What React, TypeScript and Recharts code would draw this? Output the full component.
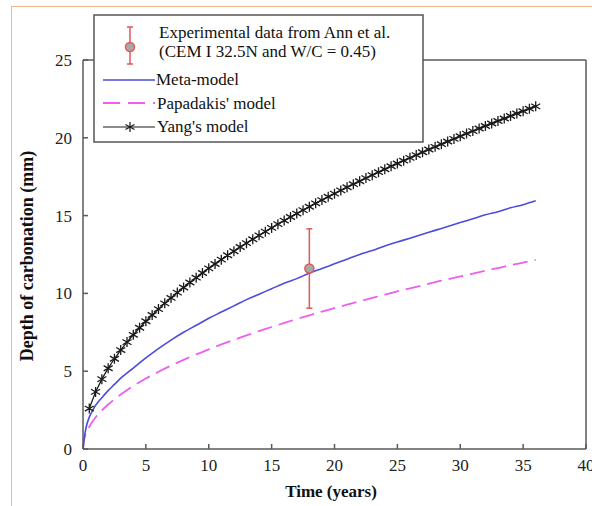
import React from "react"
import { ComposedChart, Line, Scatter, ErrorBar, XAxis, YAxis, ReferenceLine } from "recharts"

const xTicks = [0, 5, 10, 15, 20, 25, 30, 35, 40]
const yTicks = [0, 5, 10, 15, 20, 25]

// Meta-model (solid blue)
const metaTime = [0, 0.1, 0.25, 0.5, 0.75, 1, 1.5, 2, 2.5, 3, 4, 5, 6, 7, 8, 9, 10, 11, 12, 13, 14, 15, 16, 17, 18, 19, 20, 21, 22, 23, 24, 25, 26, 27, 28, 29, 30, 31, 32, 33, 34, 35, 36]
const metaDepth = [0, 0.7, 1.4, 2.05, 2.45, 2.8, 3.3, 3.75, 4.15, 4.55, 5.2, 5.85, 6.45, 7.0, 7.5, 7.95, 8.4, 8.8, 9.2, 9.6, 9.95, 10.3, 10.65, 10.95, 11.3, 11.6, 11.9, 12.2, 12.5, 12.75, 13.05, 13.3, 13.55, 13.8, 14.05, 14.3, 14.55, 14.8, 15.05, 15.25, 15.5, 15.7, 15.95]

// Papadakis' model (dashed pink)
const papaTime = [0, 0.1, 0.25, 0.5, 1, 1.5, 2, 3, 4, 5, 6, 7, 8, 9, 10, 11, 12, 13, 14, 15, 16, 17, 18, 19, 20, 21, 22, 23, 24, 25, 26, 27, 28, 29, 30, 31, 32, 33, 34, 35, 36]
const papaDepth = [0, 0.64, 1.0, 1.43, 2.03, 2.48, 2.86, 3.5, 4.05, 4.53, 4.96, 5.36, 5.73, 6.08, 6.4, 6.72, 7.01, 7.3, 7.58, 7.84, 8.1, 8.35, 8.59, 8.83, 9.06, 9.28, 9.5, 9.71, 9.92, 10.13, 10.33, 10.52, 10.72, 10.9, 11.09, 11.27, 11.46, 11.63, 11.81, 11.98, 12.15]

// Yang's model (black with asterisks)
const yangTime = [
    0.5, 1, 1.5, 2, 2.5, 3, 3.5, 4, 4.5, 5, 5.5, 6, 6.5, 7, 7.5, 8, 8.5, 9, 9.5, 10, 10.5, 11, 11.5, 12,
    12.5, 13, 13.5, 14, 14.5, 15, 15.5, 16, 16.5, 17, 17.5, 18, 18.5, 19, 19.5, 20, 20.5, 21, 21.5, 22, 22.5, 23, 23.5, 24,
    24.5, 25, 25.5, 26, 26.5, 27, 27.5, 28, 28.5, 29, 29.5, 30, 30.5, 31, 31.5, 32, 32.5, 33, 33.5, 34, 34.5, 35, 35.5, 36,
]
const yangDepth = [
    2.6, 3.67, 4.49, 5.19, 5.8, 6.36, 6.87, 7.34, 7.79, 8.21, 8.61, 8.99, 9.36, 9.71, 10.05, 10.38, 10.7, 11.01, 11.31, 11.61, 11.89, 12.17, 12.45, 12.71,
    12.98, 13.23, 13.48, 13.73, 13.97, 14.21, 14.45, 14.68, 14.91, 15.13, 15.35, 15.57, 15.79, 16.0, 16.21, 16.41, 16.62, 16.82, 17.02, 17.21, 17.41, 17.6, 17.79, 17.98,
    18.17, 18.35, 18.53, 18.71, 18.89, 19.07, 19.25, 19.42, 19.59, 19.76, 19.93, 20.1, 20.27, 20.43, 20.6, 20.76, 20.92, 21.08, 21.24, 21.4, 21.56, 21.71, 21.87, 22.02,
]

// Experimental point (Ann et al.)
const expTime = [18]
const expDepth = [11.6]
const expError = [2.55]

const metaData = metaTime.map((t, i) => ({ t, y: metaDepth[i] }))
const papaData = papaTime.map((t, i) => ({ t, y: papaDepth[i] }))
const yangData = yangTime.map((t, i) => ({ t, y: yangDepth[i] }))
const expData = expTime.map((t, i) => ({ t, y: expDepth[i], err: expError[i] }))

const FONT = "'Liberation Serif', 'Times New Roman', serif"
const AXIS = "#5a5a5a"
const BLUE = "#4b4bdc"
const PINK = "#ee5fee"
const RED = "#e05858"

const starPath = (cx: number, cy: number) =>
    `M${cx},${cy - 5}V${cy + 5}M${cx - 4.5},${cy - 2.6}L${cx + 4.5},${cy + 2.6}M${cx - 4.5},${cy + 2.6}L${cx + 4.5},${cy - 2.6}`

const Asterisk = (props: any) => {
    const { cx, cy, index } = props
    if (cx == null || cy == null) return <g key={`s-${index}`} />
    return <path key={`s-${index}`} d={starPath(cx, cy)} stroke="#1a1a1a" strokeWidth={1.3} fill="none" />
}

const XTick = ({ x, y, payload }: any) => (
    <g>
        <line x1={x} x2={x} y1={y} y2={y - 5} stroke={AXIS} strokeWidth={1.5} />
        <text x={x} y={y + 22} textAnchor="middle" fontSize={17} fill="#222" fontFamily={FONT}>
            {payload.value}
        </text>
    </g>
)

const YTick = ({ x, y, payload }: any) => (
    <g>
        <line x1={x} x2={x + 5} y1={y} y2={y} stroke={AXIS} strokeWidth={1.5} />
        <text x={x - 11} y={y + 6} textAnchor="end" fontSize={17} fill="#222" fontFamily={FONT}>
            {payload.value}
        </text>
    </g>
)

const ExpPoint = (props: any) => {
    const { cx, cy } = props
    return <circle cx={cx} cy={cy} r={4.5} fill="#a8a8a8" stroke={RED} strokeWidth={1.5} />
}

export default function App() {
    return (
        <div style={{ position: "absolute", top: 0, left: 0, width: 592, height: 506, background: "#fff", overflow: "hidden" }}>
            <div style={{ position: "absolute", top: 6, left: 11, right: -10, bottom: -10, borderTop: "1px solid #ecb48c", borderLeft: "1px solid #d4c4aa" }} />
            <ComposedChart
                width={592}
                height={506}
                margin={{ top: 60, right: 6, bottom: 27, left: 23 }}
                style={{ position: "absolute", top: 0, left: 0, fontFamily: FONT }}
            >
                <XAxis
                    dataKey="t"
                    type="number"
                    domain={[0, 40]}
                    ticks={xTicks}
                    interval={0}
                    height={30}
                    tickSize={0}
                    tickMargin={0}
                    tick={<XTick />}
                    axisLine={{ stroke: AXIS, strokeWidth: 1.5 }}
                    allowDataOverflow
                />
                <YAxis
                    dataKey="y"
                    type="number"
                    domain={[0, 25]}
                    ticks={yTicks}
                    interval={0}
                    width={60}
                    tickSize={0}
                    tickMargin={0}
                    tick={<YTick />}
                    axisLine={{ stroke: AXIS, strokeWidth: 1.5 }}
                    allowDataOverflow
                />
                <ReferenceLine y={25} stroke={AXIS} strokeWidth={1.5} />
                <ReferenceLine x={40} stroke={AXIS} strokeWidth={1.5} />
                <Line data={papaData} dataKey="y" type="monotone" stroke={PINK} strokeWidth={1.8} strokeDasharray="15 7" dot={false} isAnimationActive={false} />
                <Line data={metaData} dataKey="y" type="monotone" stroke={BLUE} strokeWidth={1.6} dot={false} isAnimationActive={false} />
                <Line data={yangData} dataKey="y" type="linear" stroke="#1a1a1a" strokeWidth={1.3} dot={<Asterisk />} isAnimationActive={false} />
                <Scatter data={expData} dataKey="y" shape={<ExpPoint />} isAnimationActive={false}>
                    <ErrorBar dataKey="err" direction="y" width={3} stroke={RED} strokeWidth={1.5} isAnimationActive={false} />
                </Scatter>
            </ComposedChart>
            <svg width={592} height={506} style={{ position: "absolute", top: 0, left: 0, pointerEvents: "none" }} fontFamily={FONT}>
                <rect x={94} y={15} width={329} height={127} fill="#fff" stroke="#555" strokeWidth={1.5} />
                <line x1={130} x2={130} y1={27} y2={64} stroke={RED} strokeWidth={1.5} />
                <line x1={127} x2={133} y1={27} y2={27} stroke={RED} strokeWidth={1.5} />
                <line x1={127} x2={133} y1={64} y2={64} stroke={RED} strokeWidth={1.5} />
                <circle cx={130} cy={47} r={4.5} fill="#a8a8a8" stroke={RED} strokeWidth={1.5} />
                <text x={159} y={38} fontSize={17} fill="#111">Experimental data from Ann et al.</text>
                <text x={159} y={57} fontSize={17} fill="#111">(CEM I 32.5N and W/C = 0.45)</text>
                <line x1={103} x2={155} y1={80} y2={80} stroke={BLUE} strokeWidth={1.6} />
                <text x={156} y={85} fontSize={17} fill="#111">Meta-model</text>
                <line x1={103} x2={155} y1={103} y2={103} stroke={PINK} strokeWidth={1.8} strokeDasharray="17 8" />
                <text x={157} y={109} fontSize={17} fill="#111">Papadakis' model</text>
                <line x1={103} x2={155} y1={127} y2={127} stroke="#1a1a1a" strokeWidth={1.2} />
                <path d={starPath(130, 127)} stroke="#1a1a1a" strokeWidth={1.2} fill="none" />
                <text x={157} y={132} fontSize={17} fill="#111">Yang's model</text>
                <text x={331} y={497} fontSize={17} fontWeight="bold" textAnchor="middle" fill="#111">Time (years)</text>
                <text x={33} y={256} fontSize={18} fontWeight="bold" textAnchor="middle" fill="#111" transform="rotate(-90, 33, 256)">
                    Depth of carbonation (mm)
                </text>
            </svg>
        </div>
    )
}
